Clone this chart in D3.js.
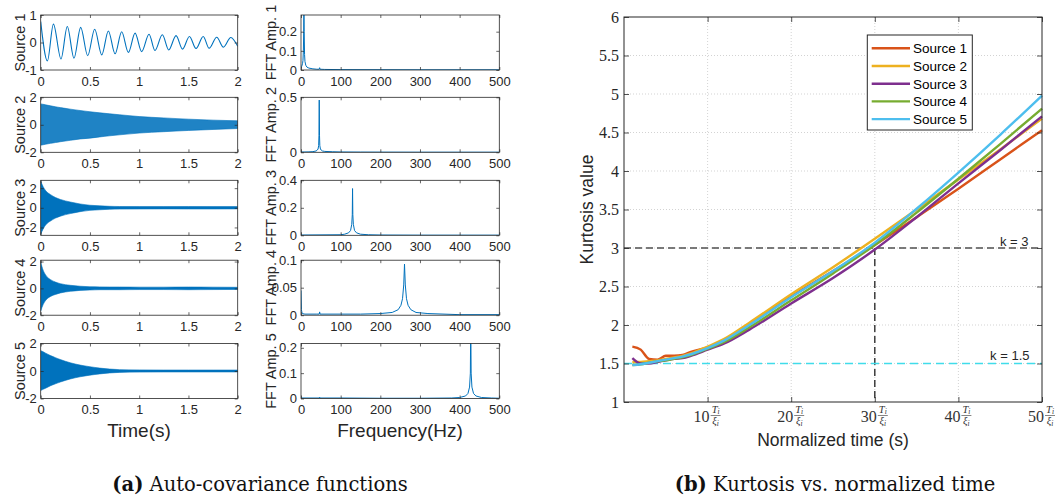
<!DOCTYPE html>
<html><head><meta charset="utf-8">
<script src="https://cdn.jsdelivr.net/npm/d3@7"></script>
<style>body{margin:0;background:#fff} svg{display:block}</style>
</head><body><svg id="c" width="1055" height="499"></svg>
<script>
// ---------------- DATA ----------------
const timeTicks = [0, 0.5, 1, 1.5, 2];
const freqTicks = [0, 100, 200, 300, 400, 500];
const timeYDomains = [[-1, 1], [-2, 2], [-2.8, 2.8], [-2, 2.1], [-2, 2]];
const timeYTicks = [[-1, 0, 1], [-2, 0, 2], [-2, 0, 2], [-2, 0, 2], [-2, 0, 2]];
const fftYDomains = [[0, 0.287], [0, 0.5], [0, 0.4], [0, 0.1], [0, 0.217]];
const fftYTicks = [[0, 0.1, 0.2], [0, 0.5], [0, 0.2, 0.4], [0, 0.05, 0.1], [0, 0.1, 0.2]];

// Source 1: oscillation read as successive extrema (time s, value)
const s1Time = [0, 0.068, 0.129, 0.206, 0.27, 0.338, 0.406, 0.477, 0.548, 0.62, 0.687, 0.755, 0.822, 0.89, 0.958, 1.025, 1.1, 1.16, 1.235, 1.3, 1.374, 1.44, 1.51, 1.577, 1.65, 1.71, 1.787, 1.855, 1.93, 2.0];
const s1Value = [0.76, -0.67, 0.67, -0.6, 0.58, -0.57, 0.55, -0.48, 0.48, -0.45, 0.42, -0.41, 0.39, -0.36, 0.34, -0.33, 0.3, -0.29, 0.28, -0.27, 0.25, -0.24, 0.22, -0.22, 0.22, -0.21, 0.19, -0.17, 0.18, -0.14];

// Sources 2-5: dense oscillation, drawn as upper / lower envelope
const envTime = [0, 0.025, 0.05, 0.1, 0.15, 0.2, 0.3, 0.4, 0.5, 0.6, 0.7, 0.8, 1.0, 1.25, 1.5, 1.75, 2.0];
const s2Upper = [1.52, 1.49, 1.45, 1.38, 1.31, 1.25, 1.14, 1.04, 0.95, 0.87, 0.8, 0.73, 0.6, 0.5, 0.41, 0.34, 0.29];
const s2Lower = [-1.48, -1.45, -1.41, -1.35, -1.29, -1.23, -1.13, -1.03, -0.97, -0.88, -0.8, -0.73, -0.6, -0.5, -0.41, -0.34, -0.27];
const s3Upper = [2.7, 2.15, 1.75, 1.34, 1.05, 0.85, 0.59, 0.39, 0.26, 0.2, 0.15, 0.13, 0.12, 0.12, 0.13, 0.12, 0.12];
const s3Lower = [-2.7, -2.15, -1.75, -1.34, -1.05, -0.85, -0.59, -0.39, -0.26, -0.2, -0.15, -0.13, -0.12, -0.11, -0.12, -0.12, -0.11];
const s4Upper = [1.95, 1.35, 1.0, 0.65, 0.47, 0.35, 0.23, 0.16, 0.12, 0.11, 0.1, 0.1, 0.09, 0.09, 0.1, 0.09, 0.08];
const s4Lower = [-1.7, -1.2, -0.9, -0.6, -0.45, -0.34, -0.22, -0.15, -0.12, -0.1, -0.1, -0.1, -0.09, -0.09, -0.1, -0.09, -0.08];
const s5Upper = [1.48, 1.4, 1.3, 1.12, 0.97, 0.83, 0.6, 0.43, 0.31, 0.21, 0.14, 0.1, 0.08, 0.07, 0.07, 0.07, 0.07];
const s5Lower = [-1.42, -1.33, -1.25, -1.07, -0.93, -0.8, -0.58, -0.42, -0.3, -0.21, -0.14, -0.1, -0.08, -0.07, -0.07, -0.07, -0.07];

// FFT amplitude spectra (Hz, amplitude)
const fft1Freq = [0, 2, 4, 5, 6, 6.8, 7.4, 8, 9, 10, 12, 15, 20, 30, 40, 46, 47, 48, 60, 100, 200, 300, 400, 500];
const fft1Amp = [0.012, 0.02, 0.035, 0.05, 0.1, 0.2, 0.35, 0.2, 0.08, 0.045, 0.025, 0.015, 0.01, 0.006, 0.004, 0.004, 0.012, 0.004, 0.003, 0.002, 0.0015, 0.001, 0.001, 0.001];
const fft2Freq = [0, 10, 20, 30, 38, 41, 43, 44.5, 45.3, 46, 46.7, 47.5, 49, 51, 54, 60, 80, 100, 150, 200, 300, 400, 500];
const fft2Amp = [0.003, 0.003, 0.004, 0.006, 0.012, 0.02, 0.03, 0.06, 0.15, 0.475, 0.15, 0.06, 0.03, 0.02, 0.012, 0.008, 0.005, 0.003, 0.002, 0.0015, 0.001, 0.001, 0.001];
const fft3Freq = [0, 100, 110, 120, 125, 128, 129.3, 130, 130.7, 132, 135, 140, 150, 170, 200, 300, 500];
const fft3Amp = [0.002, 0.004, 0.008, 0.018, 0.035, 0.08, 0.15, 0.34, 0.15, 0.08, 0.035, 0.018, 0.008, 0.004, 0.002, 0.001, 0.001];
const fft4Freq = [0, 1, 3, 10, 40, 46, 47, 48, 100, 150, 200, 230, 245, 252, 256, 259, 261, 263, 266, 270, 277, 290, 320, 400, 500];
const fft4Amp = [0.045, 0.01, 0.003, 0.002, 0.002, 0.002, 0.006, 0.002, 0.002, 0.002, 0.003, 0.005, 0.01, 0.018, 0.03, 0.055, 0.093, 0.055, 0.03, 0.018, 0.01, 0.005, 0.003, 0.001, 0.001];
const fft5Freq = [0, 46, 47, 48, 100, 200, 300, 380, 400, 415, 421, 425, 427, 428, 429, 431, 435, 441, 455, 480, 500];
const fft5Amp = [0.002, 0.002, 0.005, 0.002, 0.002, 0.001, 0.001, 0.002, 0.004, 0.01, 0.02, 0.045, 0.1, 0.3, 0.1, 0.045, 0.02, 0.01, 0.004, 0.002, 0.001];

// Kurtosis vs normalized time
const sourceNames = ["Source 1", "Source 2", "Source 3", "Source 4", "Source 5"];
const sourceColors = ["#D95319", "#EDB120", "#7E2F8E", "#77AC30", "#4DBEEE"];
const kurtTime = [1, 2, 3, 4, 5, 6, 7, 8, 10, 12, 15, 20, 25, 30, 35, 40, 45, 50];
const kurtS1 = [1.72, 1.68, 1.56, 1.55, 1.60, 1.60, 1.61, 1.65, 1.71, 1.80, 2.01, 2.37, 2.70, 3.04, 3.40, 3.77, 4.15, 4.53];
const kurtS2 = [1.52, 1.52, 1.53, 1.54, 1.56, 1.58, 1.60, 1.63, 1.72, 1.82, 2.03, 2.40, 2.75, 3.12, 3.50, 3.89, 4.28, 4.68];
const kurtS3 = [1.57, 1.50, 1.50, 1.52, 1.54, 1.56, 1.57, 1.60, 1.68, 1.76, 1.94, 2.28, 2.61, 2.98, 3.40, 3.84, 4.27, 4.71];
const kurtS4 = [1.48, 1.49, 1.51, 1.53, 1.54, 1.56, 1.58, 1.61, 1.69, 1.78, 1.97, 2.32, 2.67, 3.04, 3.46, 3.90, 4.35, 4.81];
const kurtS5 = [1.48, 1.49, 1.51, 1.53, 1.55, 1.57, 1.59, 1.62, 1.70, 1.80, 2.00, 2.36, 2.70, 3.07, 3.51, 3.98, 4.47, 4.98];
const kurtYTicks = [1, 1.5, 2, 2.5, 3, 3.5, 4, 4.5, 5, 5.5, 6];
const kurtXTicks = [10, 20, 30, 40, 50];
const thresholdHigh = 3, thresholdLow = 1.5, thresholdTime = 30;

// ---------------- DRAW ----------------
const svg = d3.select("#c");
const defs = svg.append("defs");
const BLUE = "#0072BD", AX = "#262626";
const SANS = "'Liberation Sans', Arial, sans-serif";
const SERIF = "'Liberation Serif', 'Times New Roman', serif";
let clipN = 0;

function panel(o) {
  const x = d3.scaleLinear().domain(o.xd).range([o.x, o.x + o.w]);
  const y = d3.scaleLinear().domain(o.yd).range([o.y + o.h, o.y]);
  const g = svg.append("g");
  const id = "clip" + (clipN++);
  defs.append("clipPath").attr("id", id).append("rect")
    .attr("x", o.x).attr("y", o.y).attr("width", o.w).attr("height", o.h);
  const plot = g.append("g").attr("clip-path", `url(#${id})`);
  const style = sel => {
    sel.select(".domain").remove();
    sel.selectAll("line").attr("stroke", AX).attr("stroke-width", 0.7);
    sel.selectAll("text").attr("fill", AX).attr("font-family", SANS).attr("font-size", 13);
  };
  g.append("g").attr("transform", `translate(0,${o.y + o.h})`)
    .call(d3.axisBottom(x).tickValues(o.xt).tickSizeInner(-3).tickSizeOuter(0).tickPadding(6.5).tickFormat(d => String(d)))
    .call(style);
  g.append("g").attr("transform", `translate(0,${o.y})`)
    .call(d3.axisTop(x).tickValues(o.xt).tickSizeInner(-3).tickSizeOuter(0).tickFormat(""))
    .call(style);
  g.append("g").attr("transform", `translate(${o.x},0)`)
    .call(d3.axisLeft(y).tickValues(o.yt).tickSizeInner(-3).tickSizeOuter(0).tickPadding(4).tickFormat(d => String(d)))
    .call(style);
  g.append("g").attr("transform", `translate(${o.x + o.w},0)`)
    .call(d3.axisRight(y).tickValues(o.yt).tickSizeInner(-3).tickSizeOuter(0).tickFormat(""))
    .call(style);
  g.append("rect").attr("x", o.x).attr("y", o.y).attr("width", o.w).attr("height", o.h)
    .attr("fill", "none").attr("stroke", AX).attr("stroke-width", 0.8);
  g.append("text").attr("transform", `translate(${o.lx},${o.y + o.h / 2}) rotate(-90)`)
    .attr("text-anchor", "middle").attr("font-family", SANS).attr("font-size", 14.5)
    .attr("fill", AX).text(o.label);
  return { x, y, plot };
}

const tops = [15, 97.3, 180.3, 260.2, 343.5];
const PH = 55;

// time-domain panels
const envUppers = [null, s2Upper, s3Upper, s4Upper, s5Upper];
const envLowers = [null, s2Lower, s3Lower, s4Lower, s5Lower];
for (let i = 0; i < 5; i++) {
  const p = panel({ x: 40.7, y: tops[i], w: 197, h: PH, xd: [0, 2], yd: timeYDomains[i],
    xt: timeTicks, yt: timeYTicks[i], lx: 24.5, label: sourceNames[i] });
  if (i === 0) {
    const pts = s1Time.map((t, k) => [t, s1Value[k]]);
    p.plot.append("path").datum(pts)
      .attr("d", d3.line().x(d => p.x(d[0])).y(d => p.y(d[1])).curve(d3.curveMonotoneX))
      .attr("fill", "none").attr("stroke", BLUE).attr("stroke-width", 1.1);
  } else {
    const pts = envTime.map((t, k) => [t, envLowers[i][k], envUppers[i][k]]);
    p.plot.append("path").datum(pts)
      .attr("d", d3.area().x(d => p.x(d[0])).y0(d => p.y(d[1])).y1(d => p.y(d[2])).curve(d3.curveMonotoneX))
      .attr("fill", BLUE).attr("fill-opacity", i === 1 ? 0.88 : 1).attr("stroke", BLUE).attr("stroke-width", 0.6);
  }
}
svg.append("text").attr("x", 139).attr("y", 437).attr("text-anchor", "middle")
  .attr("font-family", SANS).attr("font-size", 19).attr("fill", AX).text("Time(s)");

// FFT panels
const fftF = [fft1Freq, fft2Freq, fft3Freq, fft4Freq, fft5Freq];
const fftA = [fft1Amp, fft2Amp, fft3Amp, fft4Amp, fft5Amp];
for (let i = 0; i < 5; i++) {
  const p = panel({ x: 301, y: tops[i], w: 198.3, h: PH, xd: [0, 500], yd: fftYDomains[i],
    xt: freqTicks, yt: fftYTicks[i], lx: 275.5, label: "FFT Amp. " + (i + 1) });
  const pts = fftF[i].map((f, k) => [f, fftA[i][k]]);
  p.plot.append("path").datum(pts)
    .attr("d", d3.line().x(d => p.x(d[0])).y(d => p.y(d[1])))
    .attr("fill", "none").attr("stroke", BLUE).attr("stroke-width", 1);
}
svg.append("text").attr("x", 400).attr("y", 437).attr("text-anchor", "middle")
  .attr("font-family", SANS).attr("font-size", 19).attr("fill", AX).text("Frequency(Hz)");

// ---------- Kurtosis chart ----------
const KX0 = 624, KX1 = 1042, KY0 = 17, KY1 = 402;
const kx = d3.scaleLinear().domain([0, 50]).range([KX0, KX1]);
const ky = d3.scaleLinear().domain([1, 6]).range([KY1, KY0]);
const kg = svg.append("g");
// grid
kg.append("g").selectAll("line").data(kurtYTicks.filter(v => v > 1 && v < 6)).join("line")
  .attr("x1", KX0).attr("x2", KX1).attr("y1", d => ky(d)).attr("y2", d => ky(d))
  .attr("stroke", "#c8c8c8").attr("stroke-width", 0.8).attr("stroke-dasharray", "1,2");
kg.append("g").selectAll("line").data(kurtXTicks.filter(v => v < 50)).join("line")
  .attr("x1", d => kx(d)).attr("x2", d => kx(d)).attr("y1", KY0).attr("y2", KY1)
  .attr("stroke", "#c8c8c8").attr("stroke-width", 0.8).attr("stroke-dasharray", "1,2");
// threshold lines
kg.append("line").attr("x1", KX0).attr("x2", KX1).attr("y1", ky(thresholdHigh)).attr("y2", ky(thresholdHigh))
  .attr("stroke", "#505050").attr("stroke-width", 1.4).attr("stroke-dasharray", "7,4");
kg.append("line").attr("x1", kx(thresholdTime)).attr("x2", kx(thresholdTime)).attr("y1", ky(thresholdHigh)).attr("y2", KY1)
  .attr("stroke", "#303030").attr("stroke-width", 1.4).attr("stroke-dasharray", "7,4");
kg.append("line").attr("x1", KX0).attr("x2", KX1).attr("y1", ky(thresholdLow)).attr("y2", ky(thresholdLow))
  .attr("stroke", "#40dcea").attr("stroke-width", 1.3).attr("stroke-dasharray", "8,5");
// curves
const kSeries = [kurtS1, kurtS2, kurtS3, kurtS4, kurtS5];
const kLine = d3.line().x(d => kx(d[0])).y(d => ky(d[1])).curve(d3.curveMonotoneX);
kSeries.forEach((s, i) => {
  kg.append("path").datum(kurtTime.map((t, k) => [t, s[k]]))
    .attr("d", kLine).attr("fill", "none").attr("stroke", sourceColors[i]).attr("stroke-width", 2.4);
});
// axes
const kstyle = sel => {
  sel.select(".domain").remove();
  sel.selectAll("line").attr("stroke", AX).attr("stroke-width", 0.8);
  sel.selectAll("text").attr("fill", AX).attr("font-family", SERIF).attr("font-size", 16);
};
kg.append("g").attr("transform", `translate(${KX0},0)`)
  .call(d3.axisLeft(ky).tickValues(kurtYTicks).tickSizeInner(-5).tickSizeOuter(0).tickPadding(5).tickFormat(d => String(d)))
  .call(kstyle);
kg.append("g").attr("transform", `translate(${KX1},0)`)
  .call(d3.axisRight(ky).tickValues(kurtYTicks).tickSizeInner(-5).tickSizeOuter(0).tickFormat(""))
  .call(kstyle);
kg.append("g").attr("transform", `translate(0,${KY1})`)
  .call(d3.axisBottom(kx).tickValues(kurtXTicks).tickSizeInner(-5).tickSizeOuter(0).tickFormat(""))
  .call(kstyle);
kg.append("g").attr("transform", `translate(0,${KY0})`)
  .call(d3.axisTop(kx).tickValues(kurtXTicks).tickSizeInner(-5).tickSizeOuter(0).tickFormat(""))
  .call(kstyle);
kg.append("rect").attr("x", KX0).attr("y", KY0).attr("width", KX1 - KX0).attr("height", KY1 - KY0)
  .attr("fill", "none").attr("stroke", AX).attr("stroke-width", 1);
// x tick labels with fraction T_i / xi_i
kurtXTicks.forEach(v => {
  const cx = kx(v);
  const t = kg.append("g").attr("fill", "#333");
  t.append("text").attr("x", cx + 2).attr("y", 422).attr("text-anchor", "end")
    .attr("font-family", SERIF).attr("font-size", 16).text(String(v));
  const num = t.append("text").attr("x", cx + 8).attr("y", 412.5).attr("text-anchor", "middle")
    .attr("font-family", SERIF).attr("font-size", 10.5);
  num.append("tspan").attr("font-style", "italic").text("T");
  num.append("tspan").attr("font-style", "italic").attr("font-size", 7.5).attr("dy", 1.5).text("i");
  t.append("line").attr("x1", cx + 3).attr("x2", cx + 13).attr("y1", 415.5).attr("y2", 415.5)
    .attr("stroke", "#333").attr("stroke-width", 0.6);
  const den = t.append("text").attr("x", cx + 8).attr("y", 424).attr("text-anchor", "middle")
    .attr("font-family", SERIF).attr("font-size", 10.5);
  den.append("tspan").attr("font-style", "italic").text("ξ");
  den.append("tspan").attr("font-style", "italic").attr("font-size", 7.5).attr("dy", 1.5).text("i");
});
// labels
kg.append("text").attr("transform", `translate(593,${(KY0 + KY1) / 2}) rotate(-90)`)
  .attr("text-anchor", "middle").attr("font-family", SANS).attr("font-size", 17.5).attr("fill", AX)
  .text("Kurtosis value");
kg.append("text").attr("x", 833).attr("y", 446).attr("text-anchor", "middle")
  .attr("font-family", SANS).attr("font-size", 17.5).attr("fill", AX).text("Normalized time (s)");
kg.append("text").attr("x", 1028.5).attr("y", 245.5).attr("text-anchor", "end")
  .attr("font-family", SANS).attr("font-size", 13).attr("fill", AX).text("k = 3");
kg.append("text").attr("x", 1029.5).attr("y", 360).attr("text-anchor", "end")
  .attr("font-family", SANS).attr("font-size", 13).attr("fill", AX).text("k = 1.5");
// legend
const lg = kg.append("g");
lg.append("rect").attr("x", 867.3).attr("y", 35).attr("width", 105).attr("height", 95)
  .attr("fill", "#fff").attr("stroke", AX).attr("stroke-width", 1);
sourceNames.forEach((n, i) => {
  const yy = 48.3 + i * 17.7;
  lg.append("line").attr("x1", 871.7).attr("x2", 910).attr("y1", yy).attr("y2", yy)
    .attr("stroke", sourceColors[i]).attr("stroke-width", 2.4);
  lg.append("text").attr("x", 913).attr("y", yy + 4.8).attr("font-family", SANS)
    .attr("font-size", 13.5).attr("fill", "#000").text(n);
});

// captions
function caption(cx, tag, rest) {
  const t = svg.append("text").attr("x", cx).attr("y", 491).attr("text-anchor", "middle")
    .attr("font-family", "'DejaVu Serif', serif").attr("font-size", 19.5).attr("fill", "#111");
  t.append("tspan").attr("font-weight", "bold").text(tag);
  t.append("tspan").text(" " + rest);
}
caption(260, "(a)", "Auto-covariance functions");
caption(835, "(b)", "Kurtosis vs. normalized time");
</script>
</body></html>
